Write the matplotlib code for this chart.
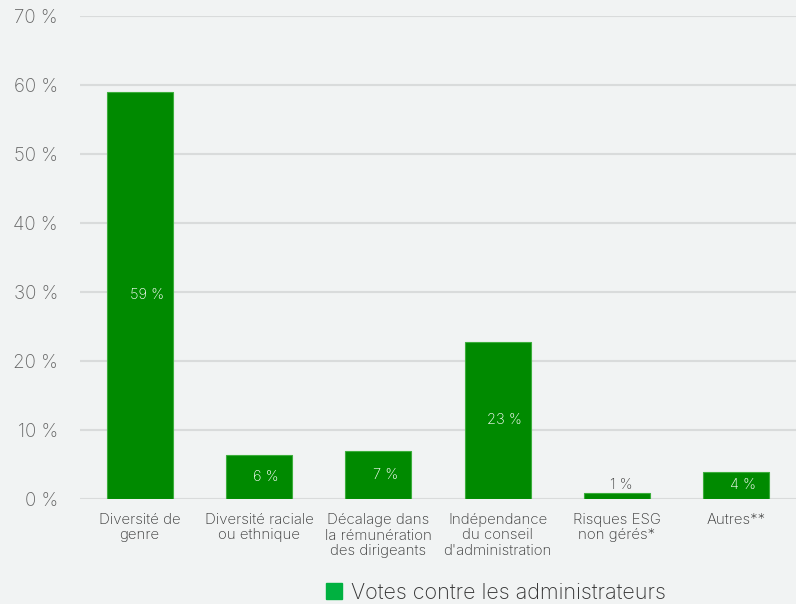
import matplotlib.pyplot as plt
from matplotlib.patches import Patch

categories = ['Diversité de\ngenre', 'Diversité raciale\nou ethnique', 'Décalage dans\nla rémunération\ndes dirigeants',
              'Indépendance\ndu conseil\nd\'administration', 'Risques ESG\nnon gérés*', 'Autres**']
values = [59, 6.4, 7.0, 22.8, 0.9, 3.9]
labels = ['59 %', '6 %', '7 %', '23 %', '1 %', '4 %']
yticks = [0, 10, 20, 30, 40, 50, 60, 70]

plt.rcParams['font.family'] = ['Inter', 'DejaVu Sans']
bg = '#f1f3f3'

fig = plt.figure(figsize=(7.96, 6.04), dpi=100, facecolor=bg)
ax = fig.add_axes([0.1005, 0.174, 0.8995, 0.7995], facecolor=bg)

x = range(len(categories))
ax.bar(x, values, width=0.555, color='#008a00', edgecolor='#3cae3c', linewidth=0.8, zorder=3)

for i, (v, lab) in enumerate(zip(values, labels)):
    if v < 2:
        ax.text(i + 0.04, v + 0.1, lab, ha='center', va='bottom', fontsize=10.5, color='#444444',
                fontweight='light', zorder=4)
    else:
        ax.text(i + 0.06, v / 2, lab, ha='center', va='center', fontsize=10.5, color='white',
                fontweight='light', zorder=4)

ax.set_xlim(-0.5, len(categories) - 0.5)
ax.set_ylim(0, 70)
ax.set_yticks(yticks)
ax.set_yticklabels([f'{t} %' for t in yticks], fontsize=13.5, color='#666666', fontweight='light')
ax.set_xticks(list(x))
ax.set_xticklabels(categories, fontsize=10.8, color='#333333', fontweight='light', linespacing=1.15)
ax.yaxis.grid(True, color='#d9dbdb', linewidth=1.5, zorder=0)
ax.tick_params(axis='both', length=0)
ax.tick_params(axis='x', pad=10)
ax.tick_params(axis='y', pad=16)
for s in ax.spines.values():
    s.set_visible(False)

handle = Patch(facecolor='#00b140', edgecolor='#00b140')
fig.legend(handles=[handle], labels=['Votes contre les administrateurs'], loc='lower center',
           bbox_to_anchor=(0.623, -0.03), frameon=False, handlelength=0.75, handleheight=0.75,
           handletextpad=0.4, labelcolor='#333333', prop={'weight': 'light', 'size': 15.5})

plt.savefig('out.png', dpi=100, facecolor=bg)
